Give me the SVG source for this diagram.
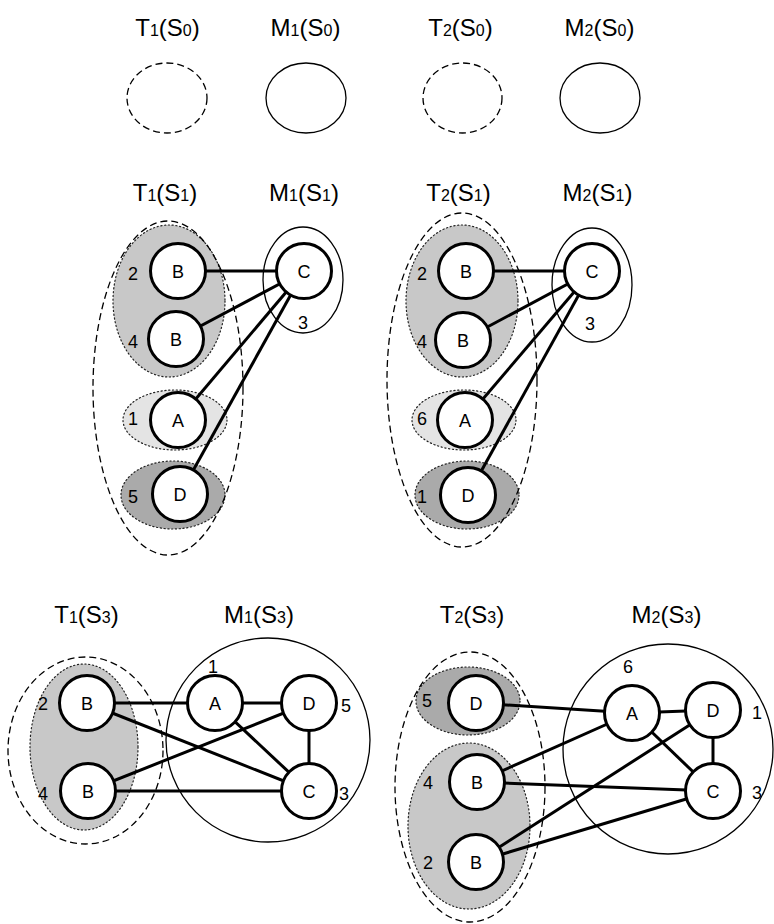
<svg xmlns="http://www.w3.org/2000/svg" width="774" height="924" viewBox="0 0 774 924">
<style>
.t{font-family:"Liberation Sans",Arial,sans-serif;font-size:24px;fill:#000;text-anchor:middle}
.s{font-size:16px}
.n{font-family:"Liberation Sans",Arial,sans-serif;font-size:18px;fill:#000;text-anchor:middle}
.dash{fill:none;stroke:#000;stroke-width:1.3;stroke-dasharray:7 4}
.thin{fill:none;stroke:#000;stroke-width:1.3}
.grp{stroke:#222;stroke-width:1.2;stroke-dasharray:1.2 2.6;stroke-linecap:round}
.g1{fill:#c8c8c8}
.g2{fill:#e4e4e4}
.g3{fill:#aaaaaa}
.node circle{fill:#fff;stroke:#000;stroke-width:3}
#connectors line{stroke:#000;stroke-width:3}
</style>

<!-- titles -->
<g id="titles">
<text class="t" x="167.5" y="36">T<tspan class="s">1</tspan>(S<tspan class="s">0</tspan>)</text>
<text class="t" x="305.5" y="36">M<tspan class="s">1</tspan>(S<tspan class="s">0</tspan>)</text>
<text class="t" x="460.5" y="36">T<tspan class="s">2</tspan>(S<tspan class="s">0</tspan>)</text>
<text class="t" x="599.5" y="36">M<tspan class="s">2</tspan>(S<tspan class="s">0</tspan>)</text>
<text class="t" x="165" y="201">T<tspan class="s">1</tspan>(S<tspan class="s">1</tspan>)</text>
<text class="t" x="304" y="201">M<tspan class="s">1</tspan>(S<tspan class="s">1</tspan>)</text>
<text class="t" x="458.5" y="201">T<tspan class="s">2</tspan>(S<tspan class="s">1</tspan>)</text>
<text class="t" x="597.5" y="201">M<tspan class="s">2</tspan>(S<tspan class="s">1</tspan>)</text>
<text class="t" x="86.5" y="623">T<tspan class="s">1</tspan>(S<tspan class="s">3</tspan>)</text>
<text class="t" x="259" y="623">M<tspan class="s">1</tspan>(S<tspan class="s">3</tspan>)</text>
<text class="t" x="472" y="623">T<tspan class="s">2</tspan>(S<tspan class="s">3</tspan>)</text>
<text class="t" x="666.5" y="623">M<tspan class="s">2</tspan>(S<tspan class="s">3</tspan>)</text>
</g>

<!-- containers -->
<g id="containers">
<ellipse id="T1S0" class="dash" cx="167" cy="98" rx="40" ry="35"/>
<ellipse id="M1S0" class="thin" cx="306" cy="98" rx="40" ry="35"/>
<ellipse id="T2S0" class="dash" cx="462.5" cy="98" rx="39.5" ry="35"/>
<ellipse id="M2S0" class="thin" cx="600" cy="98" rx="40" ry="35"/>

<ellipse class="grp g1" cx="169" cy="301" rx="56" ry="76"/>
<ellipse class="grp g2" cx="175" cy="420" rx="52" ry="30"/>
<ellipse class="grp g3" cx="173" cy="495" rx="52" ry="34"/>
<ellipse id="T1S1" class="dash" cx="168" cy="388" rx="75" ry="167"/>
<ellipse id="M1S1" class="thin" cx="303" cy="280" rx="40" ry="53"/>

<ellipse class="grp g1" cx="462" cy="301" rx="56" ry="76"/>
<ellipse class="grp g2" cx="464" cy="420" rx="52" ry="30"/>
<ellipse class="grp g3" cx="467" cy="495" rx="52" ry="34"/>
<ellipse id="T2S1" class="dash" cx="462" cy="380" rx="75" ry="167"/>
<ellipse id="M2S1" class="thin" cx="592" cy="285" rx="40" ry="57"/>

<ellipse class="grp g1" cx="84" cy="747" rx="54" ry="83"/>
<ellipse id="T1S3" class="dash" cx="85.5" cy="750.5" rx="77.5" ry="93.5"/>
<circle id="M1S3" class="thin" cx="268" cy="740" r="102"/>

<ellipse class="grp g3" cx="468" cy="701" rx="52" ry="34"/>
<ellipse class="grp g1" cx="469" cy="826" rx="61" ry="83"/>
<ellipse id="T2S3" class="dash" cx="470" cy="787" rx="75" ry="135"/>
<circle id="M2S3" class="thin" cx="668" cy="749" r="105"/>
</g>

<!-- connectors -->
<g id="connectors">
<line x1="178" y1="271" x2="304" y2="271"/>
<line x1="176" y1="339" x2="304" y2="271"/>
<line x1="178" y1="420" x2="304" y2="271"/>
<line x1="180" y1="494" x2="304" y2="271"/>

<line x1="466" y1="271" x2="592" y2="271"/>
<line x1="463" y1="340" x2="592" y2="271"/>
<line x1="465" y1="420" x2="592" y2="271"/>
<line x1="468" y1="495" x2="592" y2="271"/>

<line x1="87" y1="703" x2="215" y2="703"/>
<line x1="87" y1="703" x2="309" y2="791"/>
<line x1="88" y1="791" x2="309" y2="703"/>
<line x1="88" y1="791" x2="309" y2="791"/>
<line x1="215" y1="703" x2="309" y2="703"/>
<line x1="215" y1="703" x2="309" y2="791"/>
<line x1="309" y1="703" x2="309" y2="791"/>

<line x1="476" y1="703" x2="632" y2="713"/>
<line x1="477" y1="782" x2="632" y2="713"/>
<line x1="477" y1="782" x2="713" y2="791"/>
<line x1="476" y1="862" x2="713" y2="710"/>
<line x1="476" y1="862" x2="713" y2="791"/>
<line x1="632" y1="713" x2="713" y2="710"/>
<line x1="632" y1="713" x2="713" y2="791"/>
<line x1="713" y1="710" x2="713" y2="791"/>
</g>

<!-- nodes: S1 left -->
<g id="n1B2" class="node"><circle cx="178" cy="271" r="27.5"/><text class="n" x="178" y="277.5">B</text><text class="n" x="133" y="279.5">2</text></g>
<g id="n1B4" class="node"><circle cx="176" cy="339" r="27.5"/><text class="n" x="176" y="345.5">B</text><text class="n" x="133" y="348">4</text></g>
<g id="n1A" class="node"><circle cx="178" cy="420" r="27.5"/><text class="n" x="178" y="426.5">A</text><text class="n" x="133" y="424.5">1</text></g>
<g id="n1D" class="node"><circle cx="180" cy="494" r="27.5"/><text class="n" x="180" y="500.5">D</text><text class="n" x="133" y="502.5">5</text></g>
<g id="n1C" class="node"><circle cx="304" cy="271" r="27.5"/><text class="n" x="304" y="277.5">C</text><text class="n" x="303" y="328.5">3</text></g>

<!-- nodes: S1 right -->
<g id="n2B2" class="node"><circle cx="466" cy="271" r="27.5"/><text class="n" x="466" y="277.5">B</text><text class="n" x="422" y="279.5">2</text></g>
<g id="n2B4" class="node"><circle cx="463" cy="340" r="27.5"/><text class="n" x="463" y="346.5">B</text><text class="n" x="422" y="348">4</text></g>
<g id="n2A" class="node"><circle cx="465" cy="420" r="27.5"/><text class="n" x="465" y="426.5">A</text><text class="n" x="422" y="424.5">6</text></g>
<g id="n2D" class="node"><circle cx="468" cy="495" r="27.5"/><text class="n" x="468" y="501.5">D</text><text class="n" x="422" y="502.5">1</text></g>
<g id="n2C" class="node"><circle cx="592" cy="271" r="27.5"/><text class="n" x="592" y="277.5">C</text><text class="n" x="590" y="329.5">3</text></g>

<!-- nodes: S3 left -->
<g id="n3B2" class="node"><circle cx="87" cy="703" r="27.5"/><text class="n" x="87" y="709.5">B</text><text class="n" x="43" y="709.5">2</text></g>
<g id="n3B4" class="node"><circle cx="88" cy="791" r="27.5"/><text class="n" x="88" y="797.5">B</text><text class="n" x="43" y="799.5">4</text></g>
<g id="n3A" class="node"><circle cx="215" cy="703" r="27.5"/><text class="n" x="215" y="709.5">A</text><text class="n" x="213" y="673">1</text></g>
<g id="n3D" class="node"><circle cx="309" cy="703" r="27.5"/><text class="n" x="309" y="709.5">D</text><text class="n" x="346" y="711.5">5</text></g>
<g id="n3C" class="node"><circle cx="309" cy="791" r="27.5"/><text class="n" x="309" y="797.5">C</text><text class="n" x="344" y="799.5">3</text></g>

<!-- nodes: S3 right -->
<g id="n4D5" class="node"><circle cx="476" cy="703" r="27.5"/><text class="n" x="476" y="709.5">D</text><text class="n" x="427" y="706.5">5</text></g>
<g id="n4B4" class="node"><circle cx="477" cy="782" r="27.5"/><text class="n" x="477" y="788.5">B</text><text class="n" x="428" y="788.5">4</text></g>
<g id="n4B2" class="node"><circle cx="476" cy="862" r="27.5"/><text class="n" x="476" y="868.5">B</text><text class="n" x="428" y="868.5">2</text></g>
<g id="n4A" class="node"><circle cx="632" cy="713" r="27.5"/><text class="n" x="632" y="719.5">A</text><text class="n" x="628" y="672.5">6</text></g>
<g id="n4D1" class="node"><circle cx="713" cy="710" r="27.5"/><text class="n" x="713" y="716.5">D</text><text class="n" x="757" y="718.5">1</text></g>
<g id="n4C" class="node"><circle cx="713" cy="791" r="27.5"/><text class="n" x="713" y="797.5">C</text><text class="n" x="757" y="798.5">3</text></g>
</svg>
